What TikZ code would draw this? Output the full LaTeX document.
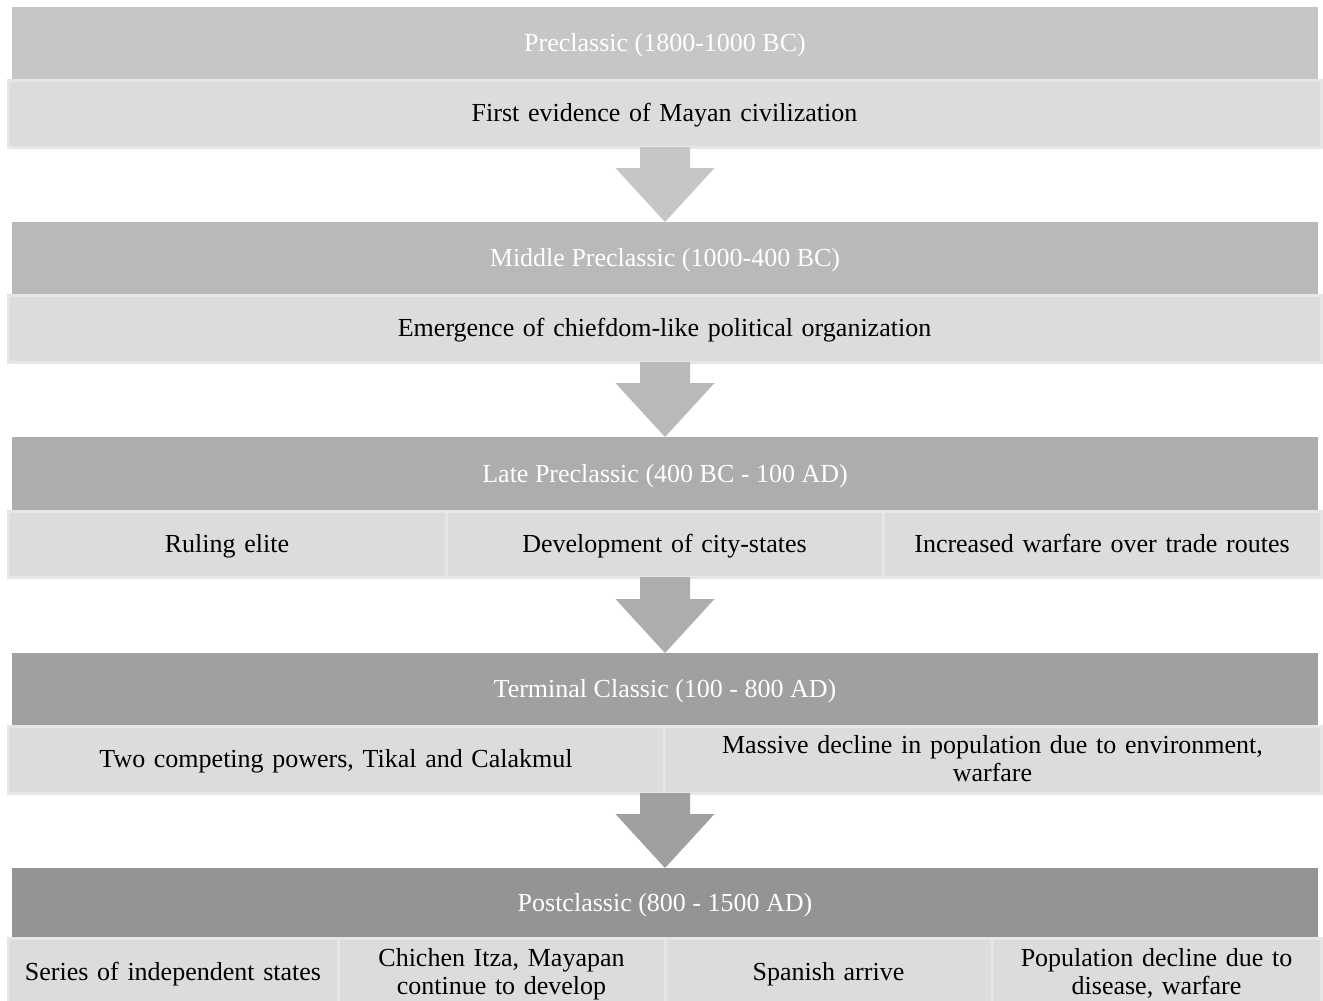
\documentclass[tikz,border=0pt]{standalone}
\usepackage{fontspec}
\setmainfont{Liberation Serif}
\usetikzlibrary{calc}

\definecolor{headA}{HTML}{C6C6C6}
\definecolor{headB}{HTML}{B9B9B9}
\definecolor{headC}{HTML}{ADADAD}
\definecolor{headD}{HTML}{A0A0A0}
\definecolor{headE}{HTML}{949494}
\definecolor{cellfill}{HTML}{DCDCDC}
\definecolor{cellline}{HTML}{E6E6E6}

\newcommand\rowstrut{\rule[-6pt]{0pt}{28pt}}

\tikzset{
    head/.style={fill=#1, text=white, anchor=north west, inner sep=0pt, outer sep=0pt,
        minimum width=1306pt, font=\fontsize{26}{28}\selectfont,
        execute at begin node=\rowstrut},
    cell/.style={fill=cellfill, draw=cellline, line width=3pt, anchor=north west,
        inner sep=0pt, outer sep=0pt, text width=#1, align=center,
        font=\fontsize{26}{28}\selectfont,
        execute at begin node=\rowstrut, execute at end node=\rowstrut},
}

% arrow from a content row down to the next header
\newcommand\phasearrow[3]{%
    \fill[#3] ([xshift=-25pt]#2.north |- #1.south)
        -- ($(#2.north)+(-25,-54)$) -- ($(#2.north)+(-49.5,-54)$)
        -- (#2.north)
        -- ($(#2.north)+(49.5,-54)$) -- ($(#2.north)+(25,-54)$)
        -- ([xshift=25pt]#2.north |- #1.south) -- cycle;}

\begin{document}
\begin{tikzpicture}[x=1pt, y=-1pt]
    \clip (0,0) rectangle (1323,1001);
    \fill[white] (0,0) rectangle (1323,1001);

    % Preclassic
    \node[head=headA, minimum height=73pt] (h1) at (12,7) {Preclassic (1800-1000 BC)};
    \node[cell=1313pt, minimum height=67pt] (c1) at (8,80) {First evidence of Mayan civilization};

    % Middle Preclassic
    \node[head=headB, minimum height=73pt] (h2) at (12,222) {Middle Preclassic (1000-400 BC)};
    \node[cell=1313pt, minimum height=67pt] (c2) at (8,295) {Emergence of chiefdom-like political organization};

    % Late Preclassic
    \node[head=headC, minimum height=74pt] (h3) at (12,437) {Late Preclassic (400 BC - 100 AD)};
    \node[cell=438pt, minimum height=66pt] (c3a) at (8,511) {Ruling elite};
    \node[cell=437pt, minimum height=66pt] (c3b) at (446,511) {Development of city-states};
    \node[cell=438pt, minimum height=66pt] (c3c) at (883,511) {Increased warfare over trade routes};

    % Terminal Classic
    \node[head=headD, minimum height=73pt] (h4) at (12,653) {Terminal Classic (100 - 800 AD)};
    \node[cell=656pt, minimum height=67pt] (c4a) at (8,726) {Two competing powers, Tikal and Calakmul};
    \node[cell=657pt, minimum height=67pt] (c4b) at (664,726) {Massive decline in population due to environment,\\warfare};

    % Postclassic
    \node[head=headE, minimum height=70pt] (h5) at (12,868) {Postclassic (800 - 1500 AD)};
    \node[cell=330pt, minimum height=68pt] (c5a) at (8,938) {Series of independent states};
    \node[cell=327pt, minimum height=68pt] (c5b) at (338,938) {Chichen Itza, Mayapan\\continue to develop};
    \node[cell=327pt, minimum height=68pt] (c5c) at (665,938) {Spanish arrive};
    \node[cell=329pt, minimum height=68pt] (c5d) at (992,938) {Population decline due to\\disease, warfare};

    \phasearrow{c1}{h2}{headA}
    \phasearrow{c2}{h3}{headB}
    \phasearrow{c3b}{h4}{headC}
    \phasearrow{c4a}{h5}{headD}
\end{tikzpicture}
\end{document}
